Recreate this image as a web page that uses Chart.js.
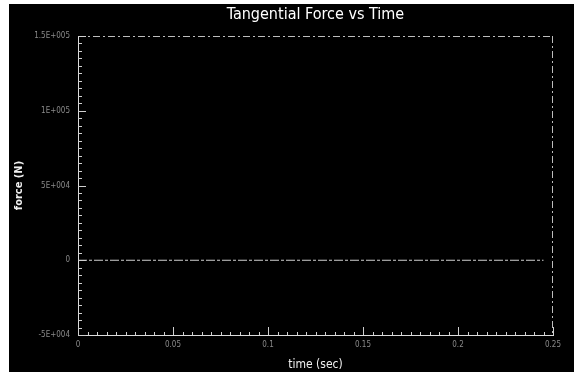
<!DOCTYPE html>
<html>
<head>
<meta charset="utf-8">
<script src="https://cdn.jsdelivr.net/npm/chart.js@4/dist/chart.umd.min.js"></script>
<style>
html,body{margin:0;padding:0;background:#fff;}
#wrap{position:relative;width:577px;height:372px;}
</style>
</head>
<body>
<div id="wrap"><canvas id="c" width="577" height="372"></canvas></div>
<script>
// ---- data ----
const timeValues  = [0, 0.01, 0.02, 0.03, 0.04, 0.05, 0.06, 0.07, 0.08, 0.09, 0.10, 0.11, 0.12, 0.13, 0.14, 0.15, 0.16, 0.17, 0.18, 0.19, 0.20, 0.21, 0.22, 0.23, 0.24, 0.245];
const forceValues = [0, 0, 0, 0, 0, 0, 0, 0, 0, 0, 0, 0, 0, 0, 0, 0, 0, 0, 0, 0, 0, 0, 0, 0, 0, 0];
const xTickValues = [0, 0.05, 0.1, 0.15, 0.2, 0.25];
const xTickLabels = ['0', '0.05', '0.1', '0.15', '0.2', '0.25'];
const yTickValues = [-50000, 0, 50000, 100000, 150000];
const yTickLabels = ['-5E+004', '0', '5E+004', '1E+005', '1.5E+005'];
const chartTitle = 'Tangential Force vs Time';

const points = timeValues.map((t, i) => ({x: t, y: forceValues[i]}));

const frame = {
  id: 'frame',
  beforeDraw(chart) {
    const ctx = chart.ctx;
    ctx.save();
    ctx.fillStyle = '#ffffff';
    ctx.fillRect(0, 0, chart.width, chart.height);
    ctx.fillStyle = '#000000';
    ctx.fillRect(9, 4, 565, 368);
    ctx.restore();
  },
  afterDraw(chart) {
    const ctx = chart.ctx;
    const a = chart.chartArea;
    const xs = chart.scales.x, ys = chart.scales.y;
    ctx.save();
    ctx.strokeStyle = '#bdbdbd';
    ctx.lineWidth = 1;
    ctx.setLineDash([7, 3, 2, 3]);
    ctx.beginPath();
    ctx.moveTo(a.left, a.top + 0.5); ctx.lineTo(a.right, a.top + 0.5);
    ctx.moveTo(a.right - 0.5, a.top); ctx.lineTo(a.right - 0.5, a.bottom);
    ctx.stroke();
    ctx.setLineDash([]);
    ctx.strokeStyle = '#d0d0d0';
    ctx.beginPath();
    for (let i = 0; i < yTickValues.length; i++) {
      const v = yTickValues[i];
      const p = Math.round(ys.getPixelForValue(v)) + 0.5;
      ctx.moveTo(a.left, p); ctx.lineTo(a.left + 8, p);
      if (i < yTickValues.length - 1) {
        const step = (yTickValues[i + 1] - v) / 10;
        for (let k = 1; k < 10; k++) {
          const q = Math.round(ys.getPixelForValue(v + k * step)) + 0.5;
          ctx.moveTo(a.left, q); ctx.lineTo(a.left + 4, q);
        }
      }
    }
    for (let i = 0; i < xTickValues.length; i++) {
      const v = xTickValues[i];
      const p = Math.round(xs.getPixelForValue(v)) + 0.5;
      ctx.moveTo(p, a.bottom); ctx.lineTo(p, a.bottom - 8);
      if (i < xTickValues.length - 1) {
        const step = (xTickValues[i + 1] - v) / 10;
        for (let k = 1; k < 10; k++) {
          const q = Math.round(xs.getPixelForValue(v + k * step)) + 0.5;
          ctx.moveTo(q, a.bottom); ctx.lineTo(q, a.bottom - 3);
        }
      }
    }
    ctx.stroke();
    ctx.restore();
  }
};

new Chart(document.getElementById('c'), {
  type: 'line',
  data: {
    datasets: [{
      data: points,
      borderColor: '#cfcfcf',
      borderWidth: 1,
      borderDash: [9, 2, 3, 2],
      pointRadius: 0,
      tension: 0,
      fill: false
    }]
  },
  options: {
    responsive: false,
    animation: false,
    devicePixelRatio: 1,
    layout: {padding: {left: 0, right: 24, top: 0, bottom: 0}},
    plugins: {
      legend: {display: false},
      tooltip: {enabled: false},
      title: {display: false}
    },
    scales: {
      x: {
        type: 'linear',
        min: 0, max: 0.25,
        afterBuildTicks(s) { s.ticks = xTickValues.map(v => ({value: v})); },
        afterFit(s) { s.height = 37; },
        grid: {display: false, drawTicks: false},
        border: {display: true, color: '#dcdcdc', width: 1},
        ticks: {
          color: '#8a8a8a',
          padding: 5,
          font: {family: 'DejaVu Sans Condensed, sans-serif', size: 8},
          maxRotation: 0,
          autoSkip: false,
          callback: (v, i) => xTickLabels[i]
        },
        title: {
          display: true,
          text: 'time (sec)',
          color: '#f0f0f0',
          font: {family: 'DejaVu Sans Condensed, sans-serif', size: 12, weight: 'normal', lineHeight: 1},
          padding: {top: 0, bottom: 1}
        }
      },
      xTop: {
        type: 'linear',
        position: 'top',
        min: 0, max: 0.25,
        afterFit(s) { s.height = 36; },
        grid: {display: false, drawTicks: false},
        border: {display: false},
        ticks: {display: false},
        title: {
          display: true,
          text: chartTitle,
          color: '#ffffff',
          font: {family: 'DejaVu Sans Condensed, sans-serif', size: 16, weight: 'normal', lineHeight: 1.2},
          padding: {top: 5, bottom: 0}
        }
      },
      y: {
        type: 'linear',
        min: -50000, max: 150000,
        afterBuildTicks(s) { s.ticks = yTickValues.map(v => ({value: v})); },
        afterFit(s) { s.width = 78; },
        grid: {display: false, drawTicks: false},
        border: {display: true, color: '#dcdcdc', width: 1},
        ticks: {
          color: '#8a8a8a',
          padding: 8,
          font: {family: 'DejaVu Sans Condensed, sans-serif', size: 8},
          autoSkip: false,
          callback: (v, i) => yTickLabels[i]
        },
        title: {
          display: true,
          text: 'force (N)',
          color: '#f0f0f0',
          font: {family: 'DejaVu Sans Condensed, sans-serif', size: 11, weight: 'bold', lineHeight: 1.2},
          padding: {top: 12.4, bottom: 0}
        }
      }
    }
  },
  plugins: [frame]
});
</script>
</body>
</html>
